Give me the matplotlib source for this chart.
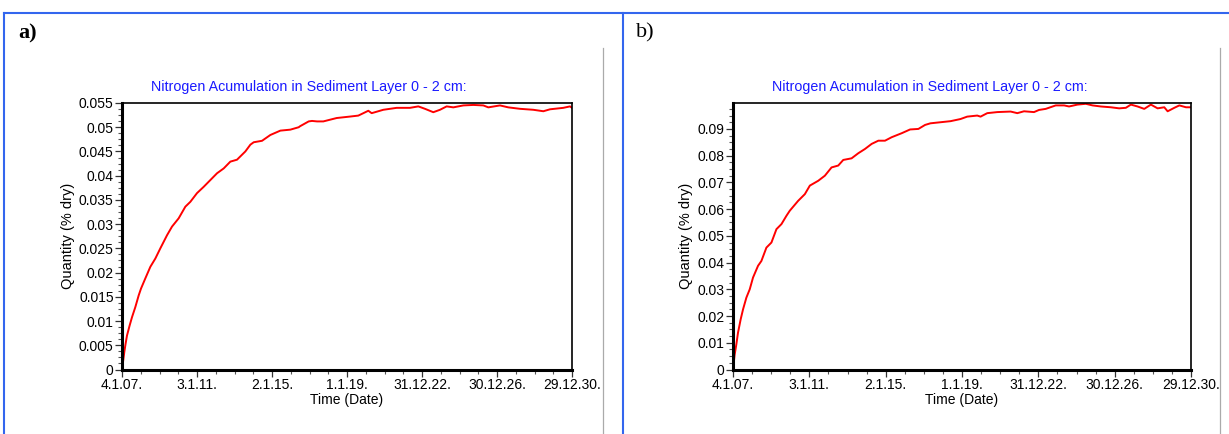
import numpy as np
import matplotlib
matplotlib.use("Agg")
import matplotlib.pyplot as plt
from matplotlib.ticker import FixedLocator, MultipleLocator, AutoMinorLocator, FixedFormatter
from matplotlib.lines import Line2D

plt.rcParams['font.family'] = ['Liberation Sans', 'DejaVu Sans']

# ---------------- data (days since 4.1.2007, value in % dry) ----------------
days_a = [0, 19, 45, 65, 97, 149, 195, 260, 325, 370, 454, 552, 649, 746, 876,
          974, 1103, 1233, 1330, 1460, 1590, 1720, 1850, 1980, 2109, 2239, 2401,
          2499, 2564, 2726, 2888, 3083, 3277, 3440, 3465, 3634, 3699, 3797, 3919,
          4179, 4438, 4600, 4698, 4795, 4860, 5087, 5347, 5606, 5768, 5898, 6060,
          6190, 6320, 6450, 6644, 6839, 7034, 7131, 7358, 7520, 7748, 8007, 8202,
          8332, 8591, 8721, 8760]
vals_a = [0.0, 0.0015, 0.0036, 0.0050, 0.0070, 0.0091, 0.0108, 0.0129, 0.0153,
          0.0167, 0.0188, 0.0212, 0.0229, 0.0250, 0.0277, 0.0295, 0.0312, 0.0336,
          0.0346, 0.0364, 0.0377, 0.0391, 0.0405, 0.0415, 0.0429, 0.0433, 0.0450,
          0.0464, 0.0469, 0.0472, 0.0484, 0.0493, 0.0495, 0.0500, 0.0502, 0.0512,
          0.0513, 0.0512, 0.0512, 0.0519, 0.0522, 0.0524, 0.0529, 0.0534, 0.0529,
          0.0536, 0.0540, 0.0540, 0.0543, 0.0538, 0.0531, 0.0536, 0.0543, 0.0541,
          0.0545, 0.0546, 0.0545, 0.0541, 0.0545, 0.0541, 0.0538, 0.0536, 0.0533,
          0.0537, 0.0540, 0.0543, 0.0540]

days_b = [0, 32, 64, 96, 147, 192, 256, 320, 383, 479, 543, 639, 735, 831, 927,
          1022, 1086, 1246, 1374, 1470, 1630, 1757, 1885, 2013, 2109, 2268, 2396,
          2524, 2652, 2780, 2907, 3035, 3227, 3387, 3546, 3674, 3776, 3968, 4160,
          4351, 4479, 4671, 4735, 4863, 5055, 5310, 5438, 5566, 5757, 5853, 5981,
          6173, 6333, 6428, 6588, 6748, 6876, 7035, 7227, 7386, 7514, 7610, 7738,
          7866, 7993, 8121, 8249, 8313, 8441, 8537, 8664, 8760]
vals_b = [0.0, 0.0056, 0.0094, 0.0138, 0.0188, 0.0225, 0.0269, 0.0300, 0.0344,
          0.0388, 0.0406, 0.0456, 0.0475, 0.0525, 0.0544, 0.0575, 0.0594, 0.0631,
          0.0656, 0.0688, 0.0706, 0.0725, 0.0756, 0.0763, 0.0784, 0.0790, 0.0809,
          0.0825, 0.0844, 0.0856, 0.0856, 0.0869, 0.0884, 0.0898, 0.0900, 0.0915,
          0.0921, 0.0925, 0.0929, 0.0937, 0.0946, 0.0950, 0.0946, 0.0959, 0.0963,
          0.0965, 0.0959, 0.0966, 0.0963, 0.0971, 0.0975, 0.0988, 0.0988, 0.0984,
          0.0991, 0.0994, 0.0988, 0.0984, 0.0981, 0.0977, 0.0979, 0.0991, 0.0984,
          0.0975, 0.0991, 0.0977, 0.0981, 0.0966, 0.0979, 0.0988, 0.0981, 0.0981]

tick_days = [0, 1460, 2920, 4380, 5840, 7300, 8760]
tick_labels = ["4.1.07.", "3.1.11.", "2.1.15.", "1.1.19.", "31.12.22.", "30.12.26.", "29.12.30."]

title = "Nitrogen Acumulation in Sediment Layer 0 - 2 cm:"
xlabel = "Time (Date)"
ylabel = "Quantity (% dry)"

# ---------------- figure ----------------
W, H = 1229, 434
fig = plt.figure(figsize=(W / 100, H / 100), dpi=100)


def fx(px):
    return px / W


def fy(py):
    return 1 - py / H


# frame lines (blue) and grey separators
blue = '#3366ee'
fig.add_artist(Line2D([fx(4), fx(1229)], [fy(13), fy(13)], color=blue, lw=1.5))
fig.add_artist(Line2D([fx(4), fx(4)], [fy(13), fy(434)], color=blue, lw=1.5))
fig.add_artist(Line2D([fx(623), fx(623)], [fy(13), fy(434)], color=blue, lw=1.5))
fig.add_artist(Line2D([fx(603), fx(603)], [fy(48), fy(434)], color='#aaaaaa', lw=0.9))
fig.add_artist(Line2D([fx(1220), fx(1220)], [fy(48), fy(434)], color='#aaaaaa', lw=0.9))

fig.text(fx(18), fy(33), "a)", fontsize=16, fontweight='bold', family='Liberation Serif', va='center', ha='left')
fig.text(fx(636), fy(33), "b)", fontsize=16, family='Liberation Serif', va='center', ha='left')


def make_axes(left_px, right_px, days, vals, ymax, ystep, title_x):
    top_px, bot_px = 103, 369.5
    ax = fig.add_axes([fx(left_px), fy(bot_px), (right_px - left_px) / W, (bot_px - top_px) / H])
    ax.plot(days, vals, color='red', lw=1.4)
    ax.set_xlim(tick_days[0], tick_days[-1])
    ax.set_ylim(0, ymax)
    ax.xaxis.set_major_locator(FixedLocator(tick_days))
    ax.xaxis.set_major_formatter(FixedFormatter(tick_labels))
    ax.xaxis.set_minor_locator(MultipleLocator(365))
    ax.yaxis.set_major_locator(MultipleLocator(ystep))
    ax.yaxis.set_minor_locator(AutoMinorLocator(4))
    ax.yaxis.set_major_formatter(matplotlib.ticker.FuncFormatter(lambda v, p: ('%g' % round(v, 4))))
    ax.tick_params(which='major', length=5, width=0.9, labelsize=10, pad=1, color='#333333')
    ax.tick_params(which='minor', length=3, width=0.8, color='#555555')
    for s in ['left', 'bottom']:
        ax.spines[s].set_linewidth(2.2)
    for s in ['top', 'right']:
        ax.spines[s].set_linewidth(1.2)
    ax.set_xlabel(xlabel, fontsize=10, labelpad=1)
    ax.set_ylabel(ylabel, fontsize=10.5, labelpad=3)
    fig.text(fx(title_x), fy(87.5), title, color='#1a1aff', fontsize=10.3, ha='center', va='center')
    return ax


make_axes(122, 572, days_a, vals_a, 0.055, 0.005, 309)
make_axes(733, 1191, days_b, vals_b, 0.0997, 0.01, 930)

fig.savefig("out.png", dpi=100)
